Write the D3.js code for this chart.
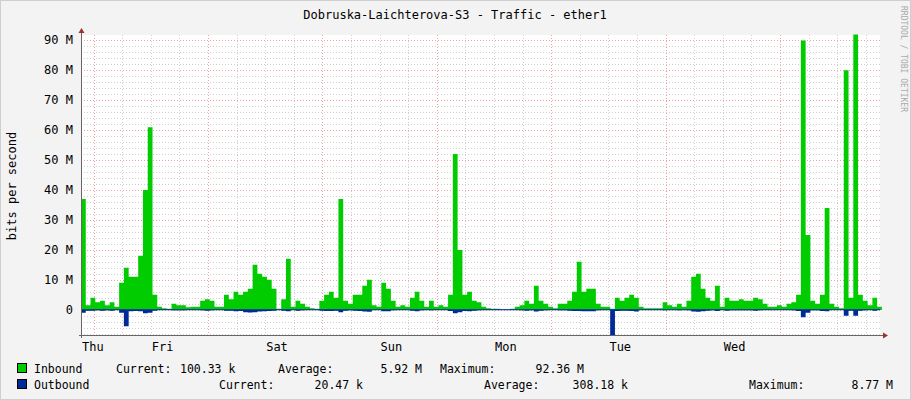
<!DOCTYPE html>
<html><head><meta charset="utf-8">
<script src="https://cdn.jsdelivr.net/npm/d3@7"></script>
<style>body{margin:0;background:#f3f3f3}svg{display:block}text{font-family:"DejaVu Sans Mono",monospace;fill:#000}</style>
</head><body><svg id="c" width="911" height="400"></svg>
<script>
// hourly samples (M bits/s), starting Wed 21:22
const inbound = [37,1.5,4,2.5,3,1.5,2.5,1,9,14,11,11,18,40,61,5,1,0.5,0.3,2,1.5,1.5,0.8,1,1,3,3.5,3,1,1,5,3.5,6,5,6,7,15,12,11,10,7,0.3,3.5,17,1,3,2,1,0.5,0.3,3,5,6,4,37,3,2,5,
5,8,10,1.5,1,9,7,3,1,1.5,1,4,6,3,1,3,1,1.5,1,5,52,20,5,6,3,2.5,1,0.5,0.3,0.3,0.1,0.1,0.3,1,1.5,3,2,8,3,2,1,0.5,2,2,3,6,16,6,7,7,2,1,1,0.3,4,3,4,
5,4,1,0.5,0.5,0.5,0.5,2.5,1.5,1,2,1,3,11,12,7,4,3,8,1,4,3,3,3.5,3,3,4,3.5,2,1,1,1.5,1,2,2.5,5,90,25,3,2,5,34,2,1,0.5,80,4,92,5,3,1.5,4,1];
const outbound = [1,0.3,0.3,0.2,0.3,0.2,0.3,0.1,1,5.5,0.5,0.4,0.5,1.2,1,0.3,0.1,0.1,0.1,0.2,0.2,0.2,0.1,0.1,0.1,0.2,0.3,0.2,0.1,0.1,0.3,0.3,0.5,0.4,0.8,0.9,0.8,0.6,0.5,0.4,0.3,0.1,0.3,0.5,0.1,0.3,0.2,0.1,0.1,0.1,0.3,0.4,0.4,0.3,0.8,0.3,0.2,0.3,
0.4,0.6,0.7,0.1,0.1,0.5,0.5,0.2,0.1,0.1,0.1,0.3,0.5,0.2,0.1,0.2,0.1,0.1,0.1,0.4,1.2,0.8,0.4,0.5,0.3,0.2,0.1,0.1,0.1,0.1,0.05,0.05,0.1,0.1,0.2,0.3,0.2,0.6,0.3,0.2,0.1,0.1,0.2,0.2,0.3,0.4,0.4,0.5,0.5,0.5,0.2,0.1,0.1,8.77,0.4,0.3,0.3,
0.4,0.6,0.1,0.1,0.1,0.1,0.1,0.2,0.1,0.1,0.2,0.1,0.2,0.6,0.7,0.5,0.3,0.2,0.4,0.1,0.3,0.2,0.2,0.2,0.2,0.2,0.3,0.2,0.1,0.1,0.1,0.1,0.1,0.1,0.2,0.4,2.5,1,0.2,0.2,0.4,0.5,0.1,0.1,0.1,2,0.3,2,0.3,0.2,0.1,0.3,0.1];
const yTicks = [0,10,20,30,40,50,60,70,80,90];
const dayLabels = ["Thu","Fri","Sat","Sun","Mon","Tue","Wed"];
const title = "Dobruska-Laichterova-S3 - Traffic - ether1";
const legendIn = ["Inbound","Current:","100.33 k","Average:","5.92 M","Maximum:","92.36 M"];
const legendOut = ["Outbound","Current:","20.47 k","Average:","308.18 k","Maximum:","8.77 M"];

const svg = d3.select("#c");
svg.append("rect").attr("x",0.5).attr("y",0.5).attr("width",910).attr("height",399).attr("fill","#f3f3f3").attr("stroke","#cfcfcf");
const L=81,R=880,T=35,B=335;
const start = new Date(2024,0,3,21,22);
const end = new Date(+start + 167.6*3600e3);
const x = d3.scaleTime().domain([start,end]).range([L,R]);
const y = d3.scaleLinear().domain([-8.44,91.8]).range([B,T]);
const t = i => new Date(+start + i*3600e3);
svg.append("rect").attr("x",L).attr("y",T).attr("width",R-L).attr("height",B-T).attr("fill","#fff");
const g = svg.append("g");
d3.range(-8,92,2).forEach(v=>{ if(v%10!==0) g.append("line").attr("x1",L).attr("x2",R).attr("y1",Math.round(y(v))+0.5).attr("y2",Math.round(y(v))+0.5).attr("stroke","#d0d0d0").attr("stroke-dasharray","1,2");});
d3.timeHour.every(6).range(start,end).forEach(d=>{ if(d.getHours()!==0) g.append("line").attr("x1",Math.round(x(d))+0.5).attr("x2",Math.round(x(d))+0.5).attr("y1",T).attr("y2",B).attr("stroke","#d0d0d0").attr("stroke-dasharray","1,2");});
yTicks.forEach(v=>g.append("line").attr("x1",L).attr("x2",R).attr("y1",Math.round(y(v))+0.5).attr("y2",Math.round(y(v))+0.5).attr("stroke","#f0a0a0").attr("stroke-dasharray","1,2"));
d3.timeDay.range(start,end).forEach(d=>g.append("line").attr("x1",Math.round(x(d))+0.5).attr("x2",Math.round(x(d))+0.5).attr("y1",T).attr("y2",B).attr("stroke","#f0a0a0").attr("stroke-dasharray","1,2"));
const areaIn = d3.area().x((d,i)=>x(t(i))).y0(y(0)).y1(d=>y(d)).curve(d3.curveStepAfter);
const areaOut = d3.area().x((d,i)=>x(t(i))).y0(y(0)).y1(d=>y(-d)).curve(d3.curveStepAfter);
svg.append("path").datum(inbound.concat([inbound[inbound.length-1]])).attr("d",areaIn).attr("fill","#00cc00");
svg.append("path").datum(outbound.concat([outbound[outbound.length-1]])).attr("d",areaOut).attr("fill","#002a97");
svg.append("line").attr("x1",L).attr("x2",R).attr("y1",y(0)).attr("y2",y(0)).attr("stroke","#002a97").attr("stroke-width",1);
svg.append("line").attr("x1",L-2).attr("x2",R+4).attr("y1",B+0.5).attr("y2",B+0.5).attr("stroke","#666");
svg.append("line").attr("x1",L+0.5).attr("x2",L+0.5).attr("y1",B+3).attr("y2",T-3).attr("stroke","#666");
svg.append("path").attr("d",`M${R+3},${B-2.5}L${R+8},${B+0.5}L${R+3},${B+3.5}Z`).attr("fill","#a03030");
svg.append("path").attr("d",`M${L-2.5},${T-2}L${L+0.5},${T-7}L${L+3.5},${T-2}Z`).attr("fill","#a03030");
yTicks.forEach(v=>svg.append("text").attr("x",73).attr("y",y(v)+4).attr("text-anchor","end").attr("font-size",12).text(v===0?"0":v+" M"));
d3.timeDay.range(start,end).forEach((d,i)=>{
  const noon = new Date(+d - 12*3600e3);
  svg.append("text").attr("x",Math.max(x(noon),L)+1).attr("y",351).attr("font-size",12).text(dayLabels[i]);
});
svg.append("text").attr("x",455).attr("y",19).attr("text-anchor","middle").attr("font-size",12).text(title);
svg.append("text").attr("transform","translate(16,186) rotate(-90)").attr("text-anchor","middle").attr("font-size",12).text("bits per second");
svg.append("text").attr("transform","translate(901,6) rotate(90)").attr("font-size",8).style("fill","#aaa").text("RRDTOOL / TOBI OETIKER");
const lg = (vals,yy,col,pos)=>{
  svg.append("rect").attr("x",17.5).attr("y",yy-9.5).attr("width",9).attr("height",9).attr("fill",col).attr("stroke","#000");
  vals.forEach((s,i)=>svg.append("text").attr("x",pos[i][0]).attr("y",yy).attr("text-anchor",pos[i][1]).attr("font-size",11.5).text(s));
};
lg(legendIn,373,"#00cc00",[[34,"start"],[116,"start"],[180,"start"],[278,"start"],[422,"end"],[440,"start"],[584,"end"]]);
lg(legendOut,389,"#002a97",[[34,"start"],[219,"start"],[363,"end"],[484,"start"],[628,"end"],[749,"start"],[893,"end"]]);
</script></body></html>
